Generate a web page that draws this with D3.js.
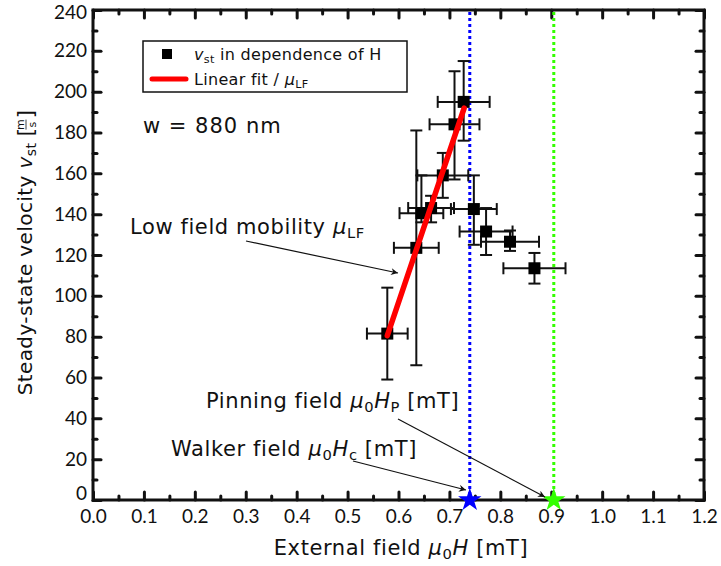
<!DOCTYPE html>
<html lang="en">
<head>
    <meta charset="UTF-8">
    <title>Steady-state velocity vs field</title>
    <script src="https://d3js.org/d3.v7.min.js"></script>
    <style>
        body { margin: 0; background: #fff; }
        text { font-family: "DejaVu Sans", sans-serif; fill: #111; }
        .tick text { font-family: Lato, sans-serif; }
    </style>
</head>
<body>
<svg id="svg" width=721 height=566></svg>
<script>
    // measured points (field in mT, velocity in m/s)
    const fieldH   = [0.578, 0.635, 0.645, 0.664, 0.687, 0.710, 0.728, 0.748, 0.772, 0.819, 0.867];
    const fieldErr = [0.040, 0.044, 0.043, 0.045, 0.050, 0.049, 0.051, 0.045, 0.052, 0.057, 0.061];
    const velocity = [81.5, 123.5, 140.5, 143, 159, 184, 195, 142.5, 131.5, 126.5, 113.5];
    const velLow   = [59, 66, 136, 136, 148, 157, 176, 125, 120, 122, 106];
    const velHigh  = [104, 181, 159, 149, 170, 210, 215, 159, 143, 132, 121];

    // linear fit (low field mobility)
    const fitH = [0.578, 0.729];
    const fitV = [80.5, 192];

    const walkerField = 0.74;
    const pinningField = 0.905;

    const xMajor = d3.range(0, 13).map(d => d / 10);
    const xMinor = d3.range(0, 12).map(d => d / 10 + 0.05);
    const yMajor = d3.range(0, 241, 20);
    const yMinor = d3.range(10, 240, 20);

    const svg = d3.select('svg');
    const x = d3.scaleLinear().domain([0, 1.2]).range([93, 704]);
    const y = d3.scaleLinear().domain([0, 240]).range([500, 10]);

    svg.append('defs').append('marker')
        .attr('id', 'arrow')
        .attr('viewBox', '0 0 10 10')
        .attr('refX', 10).attr('refY', 5)
        .attr('markerWidth', 10).attr('markerHeight', 7)
        .attr('markerUnits', 'userSpaceOnUse')
        .attr('orient', 'auto')
        .append('path').attr('d', 'M0,0 L10,5 L0,10 L3,5 Z').attr('fill', '#111');

    // axes, ticks point inward
    function drawAxis(axis, tx, ty) {
        const g = svg.append('g').attr('transform', `translate(${tx},${ty})`).call(axis);
        g.select('.domain').remove();
        g.selectAll('.tick line').attr('stroke', '#111').attr('stroke-width', 3).attr('stroke-linecap', 'round');
        g.selectAll('text').style('font-size', '19px').attr('fill', '#111');
        return g;
    }
    drawAxis(d3.axisBottom(x).tickValues(xMajor).tickSize(-8).tickPadding(10).tickFormat(d3.format('.1f')), 0, 500);
    drawAxis(d3.axisBottom(x).tickValues(xMinor).tickSize(-4).tickFormat(''), 0, 500);
    drawAxis(d3.axisTop(x).tickValues(xMajor).tickSize(-8).tickFormat(''), 0, 10);
    drawAxis(d3.axisTop(x).tickValues(xMinor).tickSize(-4).tickFormat(''), 0, 10);
    const yAx = drawAxis(d3.axisLeft(y).tickValues(yMajor).tickSize(-8).tickPadding(6), 93, 0);
    yAx.selectAll('.tick text').filter(d => d === 0).attr('dy', '-0.05em');
    yAx.selectAll('.tick text').filter(d => d === 240).attr('dy', '0.45em');
    drawAxis(d3.axisLeft(y).tickValues(yMinor).tickSize(-4).tickFormat(''), 93, 0);
    drawAxis(d3.axisRight(y).tickValues(yMajor).tickSize(-8).tickFormat(''), 704, 0);
    drawAxis(d3.axisRight(y).tickValues(yMinor).tickSize(-4).tickFormat(''), 704, 0);

    svg.append('rect')
        .attr('x', x(0)).attr('y', y(240))
        .attr('width', x(1.2) - x(0)).attr('height', y(0) - y(240))
        .attr('fill', 'none').attr('stroke', '#111').attr('stroke-width', 3);

    // critical fields
    const fields = [{ h: walkerField, color: '#0000ff' }, { h: pinningField, color: '#33ff00' }];
    svg.selectAll('.vline').data(fields).enter().append('line')
        .attr('x1', d => x(d.h)).attr('x2', d => x(d.h))
        .attr('y1', y(240) + 2).attr('y2', y(0))
        .attr('stroke', d => d.color).attr('stroke-width', 3)
        .attr('stroke-dasharray', '3,3');

    // error bars
    const pts = fieldH.map((h, i) => ({ h, e: fieldErr[i], v: velocity[i], lo: velLow[i], hi: velHigh[i] }));
    const cap = 6;
    const eb = svg.append('g').attr('stroke', '#111').attr('stroke-width', 2);
    pts.forEach(p => {
        eb.append('line').attr('x1', x(p.h - p.e)).attr('x2', x(p.h + p.e)).attr('y1', y(p.v)).attr('y2', y(p.v));
        eb.append('line').attr('x1', x(p.h - p.e)).attr('x2', x(p.h - p.e)).attr('y1', y(p.v) - cap).attr('y2', y(p.v) + cap);
        eb.append('line').attr('x1', x(p.h + p.e)).attr('x2', x(p.h + p.e)).attr('y1', y(p.v) - cap).attr('y2', y(p.v) + cap);
        eb.append('line').attr('x1', x(p.h)).attr('x2', x(p.h)).attr('y1', y(p.lo)).attr('y2', y(p.hi));
        eb.append('line').attr('x1', x(p.h) - cap).attr('x2', x(p.h) + cap).attr('y1', y(p.lo)).attr('y2', y(p.lo));
        eb.append('line').attr('x1', x(p.h) - cap).attr('x2', x(p.h) + cap).attr('y1', y(p.hi)).attr('y2', y(p.hi));
    });

    svg.selectAll('.pt').data(pts).enter().append('rect')
        .attr('x', d => x(d.h) - 6).attr('y', d => y(d.v) - 6)
        .attr('width', 12).attr('height', 12).attr('fill', '#000');

    svg.append('path')
        .attr('d', d3.line().x(d => x(d[0])).y(d => y(d[1]))(fitH.map((h, i) => [h, fitV[i]])))
        .attr('stroke', '#ff0000').attr('stroke-width', 5.5).attr('stroke-linecap', 'round').attr('fill', 'none');

    svg.selectAll('.star').data(fields).enter().append('path')
        .attr('d', d3.symbol().type(d3.symbolStar).size(170))
        .attr('transform', d => `translate(${x(d.h)},${y(0)})`)
        .attr('fill', d => d.color);

    // rich text helper: parts = [text, style] where style: 'i' italic, 'sub' subscript
    function richText(parent, px, py, parts, size, anchor, spacing) {
        const t = parent.append('text').attr('x', px).attr('y', py)
            .style('font-size', size + 'px').attr('text-anchor', anchor || 'start')
            .style('letter-spacing', (spacing || 0) + 'px');
        parts.forEach(p => {
            const s = t.append('tspan').text(p[0]);
            if (p[1] === 'i') s.style('font-style', 'italic');
            if (p[1] === 'sub') s.attr('baseline-shift', '-25%').style('font-size', (size * 0.7) + 'px');
        });
        return t;
    }

    // legend
    svg.append('rect').attr('x', 143).attr('y', 41).attr('width', 264).attr('height', 51)
        .attr('fill', '#fff').attr('stroke', '#111').attr('stroke-width', 1.5);
    svg.append('rect').attr('x', 162).attr('y', 49).attr('width', 10).attr('height', 10).attr('fill', '#000');
    richText(svg, 194, 60, [['v', 'i'], ['st', 'sub'], [' in dependence of H']], 16, 'start', 0.3);
    svg.append('line').attr('x1', 152).attr('x2', 186).attr('y1', 79).attr('y2', 79)
        .attr('stroke', '#ff0000').attr('stroke-width', 5).attr('stroke-linecap', 'round');
    richText(svg, 194, 85, [['Linear fit / '], ['μ', 'i'], ['LF', 'sub']], 16, 'start', 0.3);

    richText(svg, 143, 133, [['w = 880 nm']], 21, 'start', 1);

    // annotations
    const notes = [
        { tx: 130, ty: 234, parts: [['Low field mobility '], ['μ', 'i'], ['LF', 'sub']], from: [246, 241], to: [398, 273] },
        { tx: 206, ty: 408, parts: [['Pinning field '], ['μ', 'i'], ['0', 'sub'], ['H', 'i'], ['P', 'sub'], [' [mT]']], from: [398, 419], to: [545, 497] },
        { tx: 171, ty: 456, parts: [['Walker field '], ['μ', 'i'], ['0', 'sub'], ['H', 'i'], ['c', 'sub'], [' [mT]']], from: [353, 461], to: [466, 490] }
    ];
    notes.forEach(n => {
        richText(svg, n.tx, n.ty, n.parts, 21, 'start', 0.6);
        svg.append('line').attr('x1', n.from[0]).attr('y1', n.from[1]).attr('x2', n.to[0]).attr('y2', n.to[1])
            .attr('stroke', '#111').attr('stroke-width', 1.2).attr('marker-end', 'url(#arrow)');
    });

    // axis titles
    richText(svg, 401, 555, [['External field '], ['μ', 'i'], ['0', 'sub'], ['H', 'i'], [' [mT]']], 21, 'middle', 0.6);

    const yt = svg.append('g').attr('transform', 'translate(32,255) rotate(-90)');
    const ytText = richText(yt, -14, 0, [['Steady-state velocity '], ['v', 'i'], ['st', 'sub']], 20, 'middle', 0.4);
    const w = ytText.node().getBBox().width;
    const fx = -14 + w / 2 + 6;
    yt.append('text').attr('x', fx).attr('y', 1).style('font-size', '22px').text('[');
    yt.append('text').attr('x', fx + 12).attr('y', -8).style('font-size', '11px').attr('text-anchor', 'middle').text('m');
    yt.append('text').attr('x', fx + 12).attr('y', 4).style('font-size', '11px').attr('text-anchor', 'middle').text('s');
    yt.append('line').attr('x1', fx + 7).attr('x2', fx + 17).attr('y1', -6).attr('y2', -6).attr('stroke', '#111').attr('stroke-width', 0.8);
    yt.append('text').attr('x', fx + 18).attr('y', 1).style('font-size', '22px').text(']');
</script>
</body>
</html>
